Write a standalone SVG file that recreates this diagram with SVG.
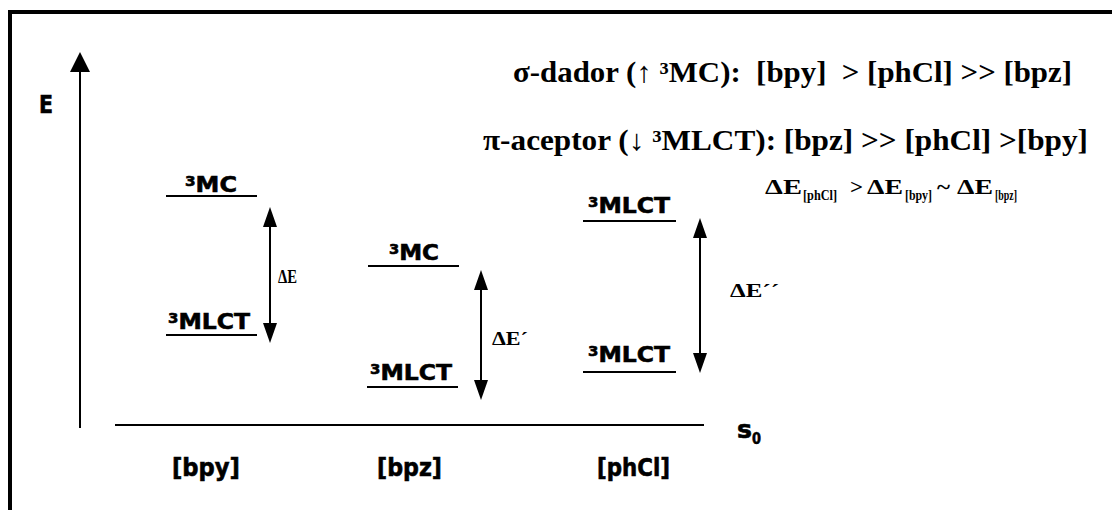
<svg xmlns="http://www.w3.org/2000/svg" width="1112" height="510" viewBox="0 0 1112 510">
<style>
.lv{stroke:#000;stroke-width:2;fill:none}
.sans{font-family:"DejaVu Sans","Verdana",sans-serif;font-weight:bold;fill:#000;stroke:#000;stroke-width:0.6}
.sup{font-size:14px}
.serif{font-family:"Liberation Serif","Times New Roman",serif;font-weight:bold;fill:#000}
.ax{stroke:#000;stroke-width:2;fill:none}
.head{fill:#000;stroke:none}
</style>
<rect width="1112" height="510" fill="#fff"/>
<rect x="10" y="12" width="1110" height="510" fill="none" stroke="#000" stroke-width="4"/>

<g id="axis">
<line class="ax" x1="80" y1="70" x2="80" y2="428"/>
<polygon class="head" points="80,52 70,72 90,72"/>
<text class="sans" x="39" y="113" font-size="24" textLength="14" lengthAdjust="spacingAndGlyphs">E</text>
</g>

<g id="title">
<text class="serif" x="513" y="82" font-size="29" xml:space="preserve" textLength="559" lengthAdjust="spacingAndGlyphs">σ-dador (↑ ³MC):  [bpy]  &gt; [phCl] &gt;&gt; [bpz]</text>
<text class="serif" x="483" y="150" font-size="29" xml:space="preserve" textLength="605" lengthAdjust="spacingAndGlyphs">π-aceptor (↓ ³MLCT): [bpz] &gt;&gt; [phCl] &gt;[bpy]</text>
</g>

<g id="comparison">
<text class="serif" x="765" y="194" font-size="20" textLength="37" lengthAdjust="spacingAndGlyphs">ΔE</text>
<text class="serif" x="803" y="200" font-size="14" textLength="34" lengthAdjust="spacingAndGlyphs">[phCl]</text>
<text class="serif" x="850" y="194" font-size="20" textLength="13" lengthAdjust="spacingAndGlyphs">&gt;</text>
<text class="serif" x="867" y="194" font-size="20" textLength="36" lengthAdjust="spacingAndGlyphs">ΔE</text>
<text class="serif" x="905" y="200" font-size="14" textLength="27" lengthAdjust="spacingAndGlyphs">[bpy]</text>
<text class="serif" x="937" y="194" font-size="20" textLength="13" lengthAdjust="spacingAndGlyphs">~</text>
<text class="serif" x="957" y="194" font-size="20" textLength="36" lengthAdjust="spacingAndGlyphs">ΔE</text>
<text class="serif" x="995" y="200" font-size="14" textLength="22" lengthAdjust="spacingAndGlyphs">[bpz]</text>
</g>

<g id="ground">
<line class="lv" x1="115" y1="425" x2="704" y2="425"/>
<text class="sans" x="737" y="438" font-size="25" textLength="15" lengthAdjust="spacingAndGlyphs">s</text>
<text class="sans" x="752" y="444" font-size="16" textLength="9" lengthAdjust="spacingAndGlyphs">0</text>
</g>

<g id="bpy">
<line class="lv" x1="166" y1="196" x2="257" y2="196"/>
<text class="sans" x="185" y="192" font-size="22" textLength="52" lengthAdjust="spacingAndGlyphs"><tspan class="sup" dy="-6">3</tspan><tspan dy="6">MC</tspan></text>
<line class="lv" x1="166" y1="335" x2="257" y2="335"/>
<text class="sans" x="168" y="329" font-size="22" textLength="82" lengthAdjust="spacingAndGlyphs"><tspan class="sup" dy="-6">3</tspan><tspan dy="6">MLCT</tspan></text>
<text class="sans" x="172" y="476" font-size="24" textLength="68" lengthAdjust="spacingAndGlyphs">[bpy]</text>
</g>

<g id="bpz">
<line class="lv" x1="368" y1="266" x2="459" y2="266"/>
<text class="sans" x="389" y="260" font-size="22" textLength="50" lengthAdjust="spacingAndGlyphs"><tspan class="sup" dy="-6">3</tspan><tspan dy="6">MC</tspan></text>
<line class="lv" x1="367" y1="387" x2="458" y2="387"/>
<text class="sans" x="370" y="380" font-size="22" textLength="82" lengthAdjust="spacingAndGlyphs"><tspan class="sup" dy="-6">3</tspan><tspan dy="6">MLCT</tspan></text>
<text class="sans" x="377" y="476" font-size="24" textLength="65" lengthAdjust="spacingAndGlyphs">[bpz]</text>
</g>

<g id="phCl">
<line class="lv" x1="583" y1="221" x2="676" y2="221"/>
<text class="sans" x="588" y="213" font-size="22" textLength="82" lengthAdjust="spacingAndGlyphs"><tspan class="sup" dy="-6">3</tspan><tspan dy="6">MLCT</tspan></text>
<line class="lv" x1="583" y1="372" x2="676" y2="372"/>
<text class="sans" x="588" y="362" font-size="22" textLength="82" lengthAdjust="spacingAndGlyphs"><tspan class="sup" dy="-6">3</tspan><tspan dy="6">MLCT</tspan></text>
<text class="sans" x="597" y="476" font-size="24" textLength="73" lengthAdjust="spacingAndGlyphs">[phCl]</text>
</g>

<g id="connectors">
<line class="ax" x1="270" y1="225" x2="270" y2="325"/>
<polygon class="head" points="270,207 263,227 277,227"/>
<polygon class="head" points="270,343 263,323 277,323"/>
<text class="serif" x="278" y="283" font-size="18" textLength="19" lengthAdjust="spacingAndGlyphs">ΔE</text>

<line class="ax" x1="481" y1="288" x2="481" y2="382"/>
<polygon class="head" points="481,270 474,290 488,290"/>
<polygon class="head" points="481,400 474,380 488,380"/>
<text class="serif" x="492" y="345" font-size="18" textLength="36" lengthAdjust="spacingAndGlyphs">ΔE´</text>

<line class="ax" x1="700" y1="236" x2="700" y2="355"/>
<polygon class="head" points="700,218 693,238 707,238"/>
<polygon class="head" points="700,373 693,353 707,353"/>
<text class="serif" x="730" y="297" font-size="18" textLength="49" lengthAdjust="spacingAndGlyphs">ΔE´´</text>
</g>
</svg>
